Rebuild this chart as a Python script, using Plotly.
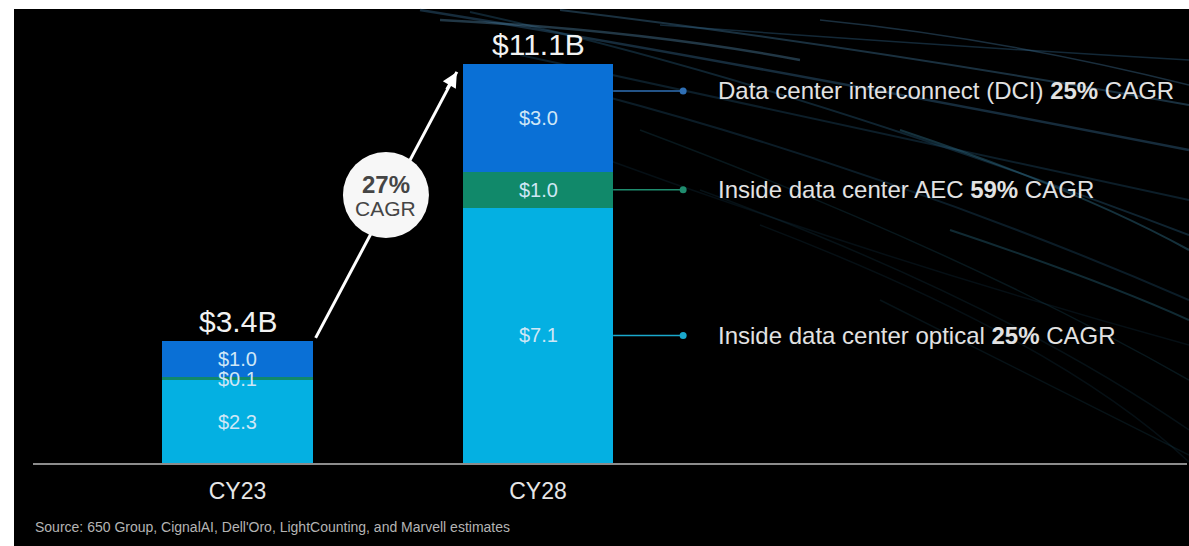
import plotly.graph_objects as go

# ---- data -------------------------------------------------------------
years = ["CY23", "CY28"]
optical = [2.3, 7.1]          # Inside data center optical ($B)
aec = [0.1, 1.0]              # Inside data center AEC ($B)
dci = [1.0, 3.0]              # Data center interconnect ($B)
totals = [3.4, 11.1]

segment_names = ["Inside data center optical", "Inside data center AEC",
                 "Data center interconnect (DCI)"]
segment_cagr = ["25%", "59%", "25%"]
overall_cagr = "27%"
source_note = "Source: 650 Group, CignalAI, Dell'Oro, LightCounting, and Marvell estimates"

# ---- styling ----------------------------------------------------------
W, H = 1189, 546
FONT = "Arial, Liberation Sans, sans-serif"
colors = ["#04b0e2", "#11896a", "#0a70d6"]
line_colors = ["#1aa8cc", "#1f8c6e", "#2f6fb4"]
label_frac = [0.5, 0.5, 0.75]   # where each callout meets its segment
BAR_W = 0.5

def px(x):
    return x / W

def py(y):
    return (H - y) / H

series = [optical, aec, dci]
xpos = list(range(len(years)))

fig = go.Figure()
for vals, name, col in zip(series, segment_names, colors):
    fig.add_trace(go.Bar(x=xpos, y=vals, name=name, width=BAR_W,
                         marker=dict(color=col, line=dict(width=0)),
                         hoverinfo="skip"))

annotations = []
shapes = []

# black slide background with a thin white frame on the top and left
shapes.append(dict(type="rect", xref="paper", yref="paper", layer="below",
                   x0=px(14), x1=1, y0=0, y1=py(9),
                   fillcolor="#000000", line=dict(width=0)))

# faint light streaks in the background
streaks = [
    ((420, 10), (700, 55), (1189, 150), "#2d5878", 2.5, 0.5),
    ((470, 12), (780, 80), (1189, 235), "#23506c", 2.0, 0.45),
    ((560, 10), (850, 45), (1189, 105), "#3a6c8c", 2.0, 0.45),
    ((440, 20), (640, 30), (800, 60), "#4a7a9a", 2.5, 0.45),
    ((520, 55), (820, 120), (1189, 200), "#1f4b66", 2.0, 0.4),
    ((600, 95), (900, 175), (1189, 300), "#1d4862", 2.0, 0.4),
    ((640, 130), (960, 250), (1189, 380), "#1b4d5e", 1.5, 0.3),
    ((700, 190), (1000, 300), (1189, 430), "#1a4457", 1.5, 0.25),
    ((660, 25), (930, 45), (1189, 60), "#2c5a7a", 1.5, 0.45),
    ((760, 225), (1060, 340), (1189, 462), "#183f52", 1.5, 0.25),
    ((820, 20), (1000, 38), (1189, 85), "#3a6788", 1.5, 0.45),
    ((580, 150), (880, 260), (1189, 345), "#173c52", 1.5, 0.25),
    ((900, 130), (1080, 190), (1189, 250), "#2f6d86", 2.0, 0.45),
    ((950, 230), (1100, 280), (1189, 320), "#2a6a80", 2.0, 0.4),
    ((880, 300), (1080, 400), (1189, 455), "#1b4a5c", 1.5, 0.25),
]
for (x0, y0), (cx, cy), (x1, y1), col, w, op in streaks:
    shapes.append(dict(
        type="path", xref="paper", yref="paper", layer="below",
        path=f"M {px(x0)},{py(y0)} Q {px(cx)},{py(cy)} {px(x1)},{py(y1)}",
        line=dict(color=col, width=w), opacity=op))

# segment value labels inside the bars
for i in xpos:
    base = 0.0
    for vals in series:
        v = vals[i]
        annotations.append(dict(x=i, y=base + v / 2, xref="x", yref="y",
                                text=f"${v:.1f}", showarrow=False,
                                font=dict(family=FONT, size=20, color="#cfe7f6")))
        base += v

# totals above the bars
for i, t in zip(xpos, totals):
    annotations.append(dict(x=i, y=t, xref="x", yref="y", yanchor="bottom",
                            yshift=1, text=f"${t:.1f}B", showarrow=False,
                            font=dict(family=FONT, size=30, color="#f2f2f2")))

# growth arrow from CY23 total to CY28 total
sx, sy = xpos[0] + BAR_W / 2 + 0.01, totals[0] + 0.08
ex, ey = xpos[1] - BAR_W / 2 - 0.02, totals[1] - 0.22
shapes.append(dict(type="line", xref="x", yref="y", layer="above",
                   x0=sx, y0=sy, x1=ex, y1=ey,
                   line=dict(color="#ffffff", width=3)))
annotations.append(dict(x=ex, y=ey, xref="x", yref="y", ax=-11, ay=19,
                        text="", showarrow=True, arrowhead=2, arrowsize=1,
                        arrowwidth=3, arrowcolor="#ffffff"))

# CAGR badge on the arrow
cx_badge, cy_badge = 0.494, 7.455
shapes.append(dict(type="circle", xref="x", yref="y", layer="above",
                   xsizemode="pixel", ysizemode="pixel",
                   xanchor=cx_badge, yanchor=cy_badge,
                   x0=-43, x1=43, y0=-43, y1=43,
                   fillcolor="#f7f7f7", line=dict(width=0)))
annotations.append(dict(x=cx_badge, y=cy_badge, xref="x", yref="y",
                        yshift=11, text=f"<b>{overall_cagr}</b>", showarrow=False,
                        font=dict(family=FONT, size=24, color="#454545")))
annotations.append(dict(x=cx_badge, y=cy_badge, xref="x", yref="y",
                        yshift=-13, text="CAGR", showarrow=False,
                        font=dict(family=FONT, size=21, color="#454545")))

# callouts for each CY28 segment
last = xpos[-1]
line_end = last + BAR_W / 2 + 0.233
text_x = last + BAR_W / 2 + 0.342
base = 0.0
for vals, name, cagr, lc, frac in zip(series, segment_names, segment_cagr,
                                      line_colors, label_frac):
    yv = base + vals[last] * frac
    base += vals[last]
    fig.add_trace(go.Scatter(x=[last + BAR_W / 2, line_end], y=[yv, yv],
                             mode="lines", line=dict(color=lc, width=1.5),
                             hoverinfo="skip", showlegend=False))
    fig.add_trace(go.Scatter(x=[line_end], y=[yv], mode="markers",
                             marker=dict(color=lc, size=7),
                             hoverinfo="skip", showlegend=False))
    annotations.append(dict(x=text_x, y=yv, xref="x", yref="y",
                            xanchor="left", yanchor="middle",
                            text=f"{name} <b>{cagr}</b> CAGR", showarrow=False,
                            font=dict(family=FONT, size=24, color="#e2e2e2")))

# source footnote
annotations.append(dict(x=px(33), y=py(527), xref="paper", yref="paper",
                        xanchor="left", yanchor="middle", text=source_note,
                        showarrow=False,
                        font=dict(family=FONT, size=14, color="#b4b4b4")))

x_lo = -(237.5 - 33) / 300.5
x_hi = (1187 - 237.5) / 300.5

fig.update_layout(
    width=W, height=H,
    margin=dict(l=0, r=0, t=0, b=0),
    paper_bgcolor="#ffffff",
    plot_bgcolor="rgba(0,0,0,0)",
    barmode="stack",
    bargap=0,
    showlegend=False,
    shapes=shapes,
    annotations=annotations,
    xaxis=dict(domain=[px(33), px(1187)], range=[x_lo, x_hi],
               tickvals=xpos, ticktext=years, showgrid=False, zeroline=False,
               showline=True, linecolor="#8c8c8c", linewidth=2, ticks="",
               ticklabelstandoff=6,
               tickfont=dict(family=FONT, size=23, color="#e6e6e6"),
               fixedrange=True),
    yaxis=dict(domain=[py(463), py(64)], range=[0, totals[-1]],
               visible=False, fixedrange=True),
)

fig.write_html("out.html")
